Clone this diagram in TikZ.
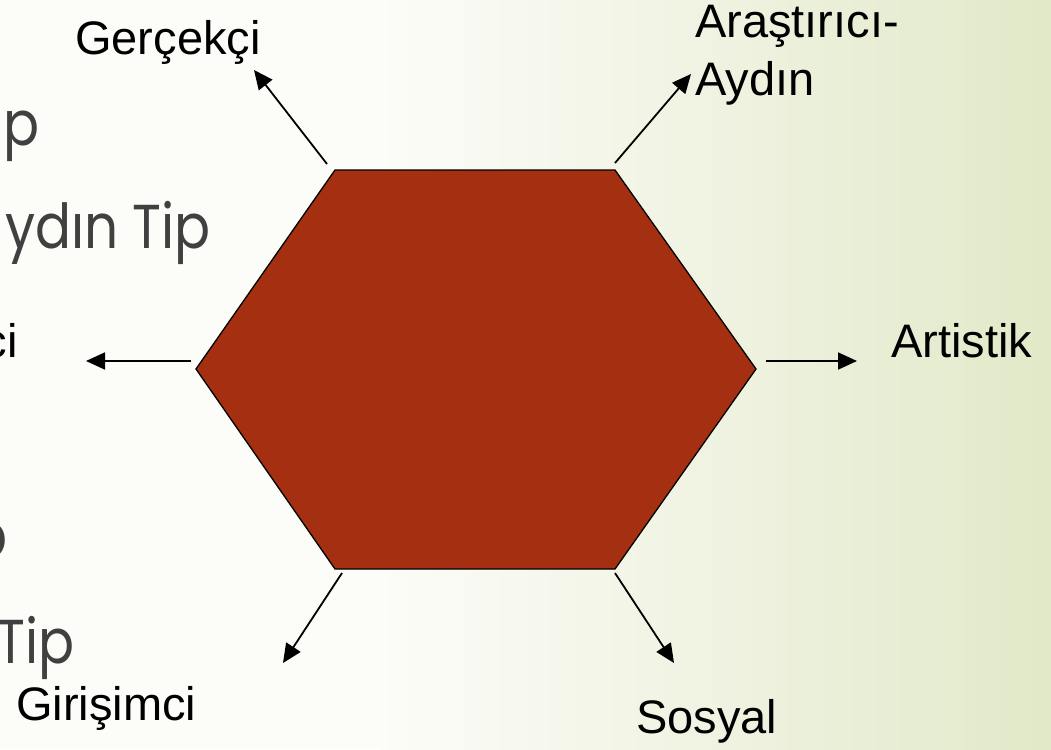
\documentclass[tikz,border=0pt]{standalone}
\usepackage{fontspec}
\setmainfont{Liberation Sans}
\newfontfamily\slidefont{Poppins}
\usetikzlibrary{arrows.meta}
\definecolor{hexfill}{RGB}{165,48,17}
\definecolor{slidegray}{RGB}{64,64,64}
\definecolor{bgA}{RGB}{252,252,248}
\definecolor{bgB}{RGB}{240,243,226}
\definecolor{bgC}{RGB}{225,233,200}
\tikzset{
  lbl/.style={inner sep=0pt, text=black, font=\fontsize{47}{58}\selectfont},
  slidetxt/.style={inner sep=0pt, text=slidegray, font=\slidefont\fontsize{62}{70}\selectfont, anchor=base east, xscale=0.86},
  hexshape/.style={fill=hexfill, draw=black, line width=1.3pt, line join=miter},
  pointer/.style={draw=black, line width=1.8pt, -{Triangle[length=19pt,width=17pt]}}
}
\begin{document}
\begin{tikzpicture}[x=1pt,y=-1pt]
\useasboundingbox (0,0) rectangle (1051,749);
\clip (0,0) rectangle (1051,749);
% background
\fill[bgA] (0,0) rectangle (382,749);
\shade[left color=bgA, right color=bgB] (380,0) rectangle (702,749);
\shade[left color=bgB, right color=bgC] (700,0) rectangle (1051,749);
% partially hidden slide text
\node[slidetxt] (s1) at (40,145) {p};
\node[slidetxt] (s2) at (211,248) {ydın Tip};
\node[slidetxt] (s3) at (8,557) {p};
\node[slidetxt] (s4) at (75,663) {Tip};
% hexagon
\coordinate (h1) at (335,170);
\coordinate (h2) at (615,170);
\coordinate (h3) at (756,369);
\coordinate (h4) at (615,569);
\coordinate (h5) at (335,569);
\coordinate (h6) at (196,369);
\path[hexshape] (h1) -- (h2) -- (h3) -- (h4) -- (h5) -- (h6) -- cycle;
% labels
\node[lbl, anchor=base west] (gercekci) at (75,55) {Gerçekçi};
\node[lbl, anchor=north west, align=left] (arastirici) at (695,5) {Araştırıcı-\\Aydın};
\node[lbl, anchor=base west] (artistik) at (891,357) {Artistik};
\node[lbl, anchor=base west] (sosyal) at (636,733) {Sosyal};
\node[lbl, anchor=base west] (girisimci) at (16,720) {Girişimci};
\node[lbl, anchor=base east] (ci) at (18,357) {ci};
% arrow endpoints
\coordinate (a1s) at (327,164); \coordinate (a1e) at (254,70);
\coordinate (a2s) at (615,163); \coordinate (a2e) at (691,74);
\coordinate (a3s) at (766,361); \coordinate (a3e) at (857,361);
\coordinate (a4s) at (191,361); \coordinate (a4e) at (86,361);
\coordinate (a5s) at (342,573); \coordinate (a5e) at (283,663);
\coordinate (a6s) at (615,573); \coordinate (a6e) at (674,663);
\draw[pointer] (a1s) -- (a1e);
\draw[pointer] (a2s) -- (a2e);
\draw[pointer] (a3s) -- (a3e);
\draw[pointer] (a4s) -- (a4e);
\draw[pointer] (a5s) -- (a5e);
\draw[pointer] (a6s) -- (a6e);
\end{tikzpicture}
\end{document}
